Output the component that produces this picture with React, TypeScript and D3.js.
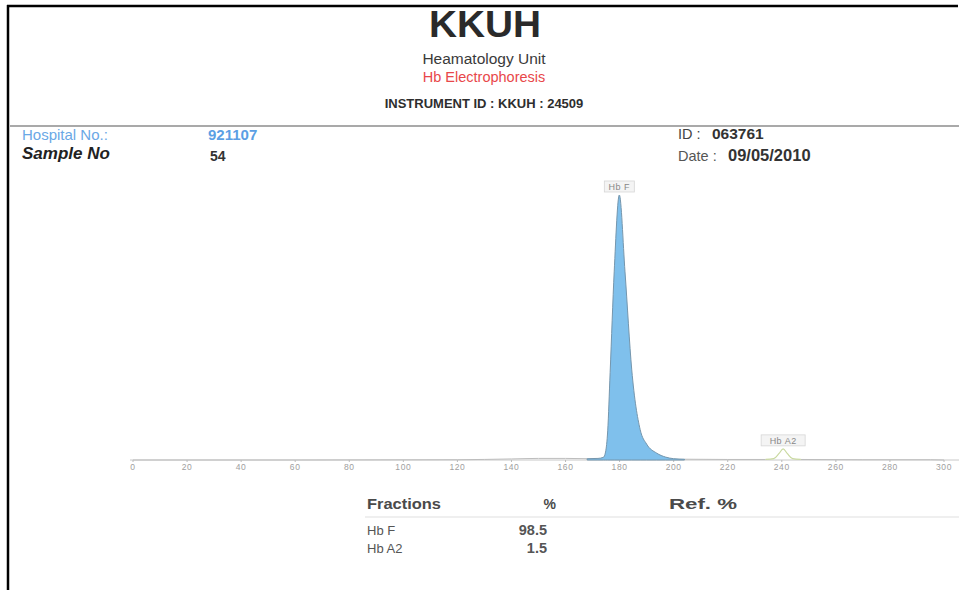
import React from "react";
import * as d3 from "d3";

const W = 959;
const H = 590;

const xTicks = [0, 20, 40, 60, 80, 100, 120, 140, 160, 180, 200, 220, 240, 260, 280, 300];

// Hb F peak trace (mobility, relative height)
const hbFTrace: [number, number][] = [
  [168, 0.5], [172, 0.6], [174, 1.0], [174.8, 3.0], [175.6, 11], [176.5, 33],
  [178, 71], [179.9, 100], [182, 71], [184.5, 34], [187.6, 11.5], [190, 6],
  [193.7, 2.6], [197, 1.1], [200, 0.5], [204, 0.3],
];

// Baseline trace (whole run)
const baseTrace: [number, number][] = [
  [0, 0], [60, 0], [120, 0.1], [140, 0.4], [150, 0.6], [160, 0.6], [168, 0.5],
];
const baseTraceRight: [number, number][] = [
  [204, 0.3], [220, 0.2], [234, 0.2],
];

// Hb A2 peak trace
const hbA2Trace: [number, number][] = [
  [234, 0.2], [237, 0.5], [239, 2.5], [240.5, 4.2], [242, 2.5], [244, 0.5], [247, 0.2],
];
const baseTraceEnd: [number, number][] = [
  [247, 0.2], [270, 0.1], [295, 0.1], [300, 0],
];

const fractions = ["Hb F", "Hb A2"];
const percents = ["98.5", "1.5"];

const peakLabels = [
  { name: "Hb F", at: 179.9, h: 100, w: 30 },
  { name: "Hb A2", at: 240.5, h: 4.2, w: 44 },
];

export default function App() {
  const x = d3.scaleLinear().domain([0, 300]).range([133, 944]);
  const y = d3.scaleLinear().domain([0, 100]).range([460, 195]);

  const line = d3
    .line<[number, number]>()
    .x((d) => x(d[0]))
    .y((d) => y(d[1]))
    .curve(d3.curveMonotoneX);
  const area = d3
    .area<[number, number]>()
    .x((d) => x(d[0]))
    .y0(y(0))
    .y1((d) => y(d[1]))
    .curve(d3.curveMonotoneX);

  const font = "'Liberation Sans', Arial, sans-serif";

  return (
    <svg
      width={W}
      height={H}
      style={{ position: "absolute", left: 0, top: 0, background: "#fff" }}
      fontFamily={font}
    >
      <rect x={0} y={0} width={W} height={H} fill="#fff" />
      {/* frame */}
      <line x1={7} y1={6} x2={958} y2={6} stroke="#000" strokeWidth={2.5} />
      <line x1={8} y1={5} x2={8} y2={590} stroke="#000" strokeWidth={2.5} />

      {/* header */}
      <text x={485} y={37} textAnchor="middle" fontSize={36} fontWeight="bold" fill="#2a2a2a" textLength={112} lengthAdjust="spacingAndGlyphs">
        KKUH
      </text>
      <text x={484} y={64} textAnchor="middle" fontSize={15.5} fill="#3a3a3a">
        Heamatology Unit
      </text>
      <text x={484} y={82} textAnchor="middle" fontSize={14.5} fill="#e8474a">
        Hb Electrophoresis
      </text>
      <text x={484} y={108} textAnchor="middle" fontSize={13} fontWeight="bold" fill="#2e2e2e">
        INSTRUMENT ID : KKUH : 24509
      </text>
      <line x1={10} y1={126} x2={959} y2={126} stroke="#a9a9a9" strokeWidth={2} />

      <text x={22} y={140} fontSize={15} fill="#6aa8e6">Hospital No.:</text>
      <text x={208} y={140} fontSize={15} fontWeight="bold" fill="#5b9fe4">921107</text>
      <text x={22} y={159} fontSize={17} fontWeight="bold" fontStyle="italic" fill="#222">Sample No</text>
      <text x={210} y={161} fontSize={14} fontWeight="bold" fill="#333">54</text>
      <text x={678} y={139} fontSize={14.5} fill="#444">ID :</text>
      <text x={712} y={139} fontSize={15.5} fontWeight="bold" fill="#333">063761</text>
      <text x={678} y={161} fontSize={14.5} fill="#555">Date :</text>
      <text x={728} y={161} fontSize={16.5} fontWeight="bold" fill="#333">09/05/2010</text>

      {/* axis */}
      <line x1={x(0) - 3} y1={y(0)} x2={x(300) + 15} y2={y(0)} stroke="#c8c8c8" strokeWidth={1} />
      {xTicks.map((t) => (
        <g key={t}>
          <line x1={x(t)} x2={x(t)} y1={y(0)} y2={y(0) + 2} stroke="#bbb" />
          <text x={x(t)} y={y(0) + 10} textAnchor="middle" fontSize={8.5} fill="#a0a0a0" letterSpacing={0.6}>
            {t}
          </text>
        </g>
      ))}

      {/* traces */}
      <path d={line(baseTrace) || ""} fill="none" stroke="#bdbdbd" strokeWidth={1} />
      <path d={line(baseTraceRight) || ""} fill="none" stroke="#bdbdbd" strokeWidth={1} />
      <path d={line(baseTraceEnd) || ""} fill="none" stroke="#bdbdbd" strokeWidth={1} />
      <path d={area(hbFTrace) || ""} fill="#7fc0ec" stroke="#7596ad" strokeWidth={1} />
      <path d={line(hbA2Trace) || ""} fill="none" stroke="#c9d9a0" strokeWidth={1.2} />

      {/* peak labels */}
      {peakLabels.map((p) => {
        const cy = y(p.h) - 8;
        return (
          <g key={p.name}>
            <rect x={x(p.at) - p.w / 2} y={cy - 6} width={p.w} height={11} fill="#f4f4f4" stroke="#d6d6d6" strokeWidth={0.8} />
            <text x={x(p.at)} y={cy + 3} textAnchor="middle" fontSize={9} fill="#888" letterSpacing={0.5}>
              {p.name}
            </text>
          </g>
        );
      })}

      {/* table */}
      <text x={367} y={509} fontSize={15} fontWeight="bold" fill="#4a4a4a" textLength={74} lengthAdjust="spacingAndGlyphs">Fractions</text>
      <text x={556} y={509} textAnchor="end" fontSize={14} fontWeight="bold" fill="#4a4a4a">%</text>
      <text x={669} y={509} fontSize={15} fontWeight="bold" fill="#4a4a4a" textLength={68} lengthAdjust="spacingAndGlyphs">Ref. %</text>
      <line x1={365} y1={517} x2={959} y2={517} stroke="#e0e0e0" strokeWidth={1.2} />
      {fractions.map((f, i) => (
        <g key={f}>
          <text x={367} y={535 + i * 18} fontSize={13} fill="#555">{f}</text>
          <text x={547} y={535 + i * 18} textAnchor="end" fontSize={14.5} fontWeight="bold" fill="#555">
            {percents[i]}
          </text>
        </g>
      ))}
    </svg>
  );
}
